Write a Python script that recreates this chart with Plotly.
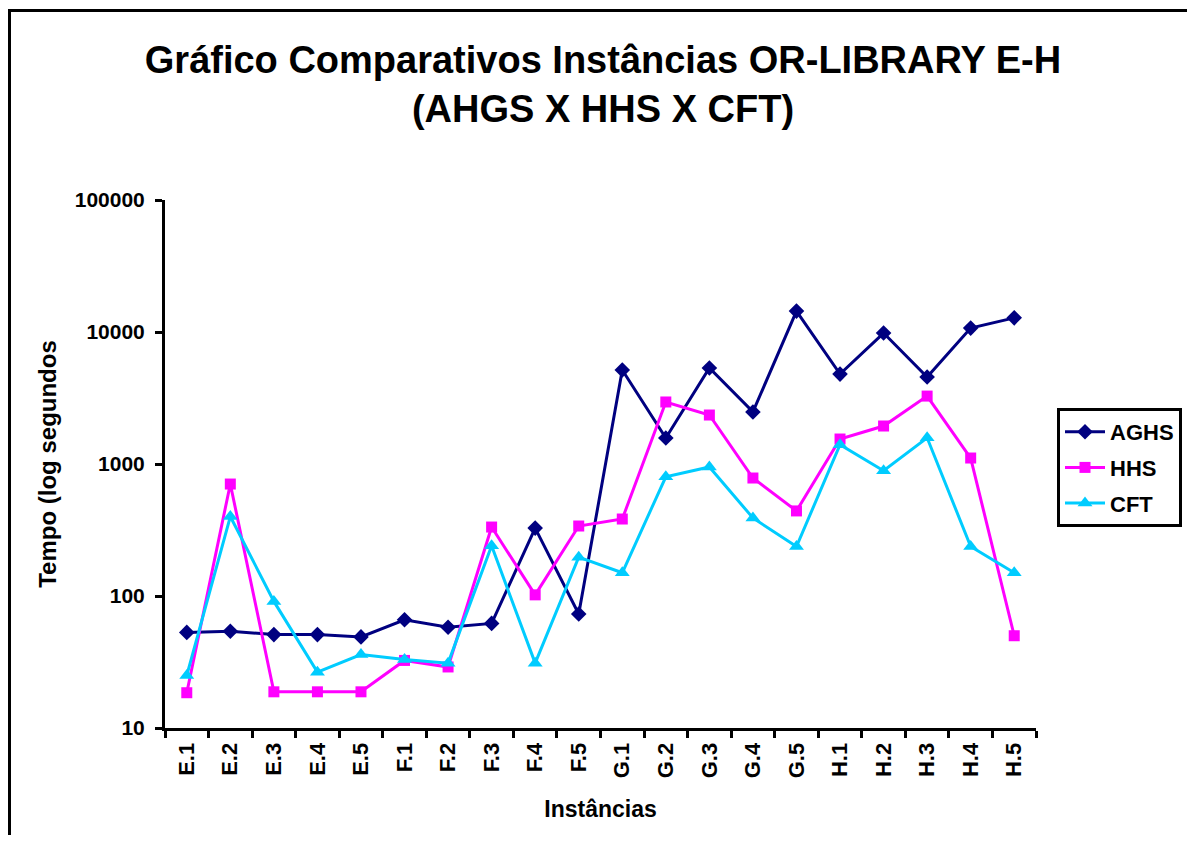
import plotly.graph_objects as go

categories = ["E.1", "E.2", "E.3", "E.4", "E.5",
              "F.1", "F.2", "F.3", "F.4", "F.5",
              "G.1", "G.2", "G.3", "G.4", "G.5",
              "H.1", "H.2", "H.3", "H.4", "H.5"]

aghs = [53, 54, 51, 51, 49, 66, 58, 62, 327, 73,
        5150, 1575, 5340, 2480, 14400, 4800, 9820, 4560, 10700, 12800]
hhs = [18.5, 705, 18.8, 18.8, 18.8, 32.5, 29, 333, 102, 339,
       383, 2950, 2350, 783, 441, 1546, 1940, 3270, 1110, 50]
cft = [25, 400, 91, 26.5, 36, 33, 31, 240, 31, 197,
       150, 800, 950, 390, 237, 1400, 890, 1580, 237, 150]

y_ticks = [10, 100, 1000, 10000, 100000]
y_tick_text = ["10", "100", "1000", "10000", "100000"]

FONT = "Liberation Sans"

fig = go.Figure()
fig.add_trace(go.Scatter(x=categories, y=aghs, name="AGHS", mode="lines+markers",
                         legendgroup="a",
                         line=dict(color="#000080", width=3),
                         marker=dict(symbol="diamond", size=12, color="#000080")))
fig.add_trace(go.Scatter(x=categories, y=hhs, name="HHS", mode="lines+markers",
                         legendgroup="b",
                         line=dict(color="#FF00FF", width=3),
                         marker=dict(symbol="square", size=11, color="#FF00FF")))
fig.add_trace(go.Scatter(x=categories, y=cft, name="CFT", mode="lines+markers",
                         legendgroup="c",
                         line=dict(color="#00CCFF", width=3),
                         marker=dict(symbol="triangle-up", size=13, color="#00CCFF")))

# page body margin offset (8px) -> figure coords = screen coords - 8
OFF = 8
W, H = 1179, 827
L, R, T, B = 165 - OFF, 1036 - OFF, 200 - OFF, 728 - OFF


def px(x):
    return (x - OFF - L) / (R - L)


def py(y):
    return (B - (y - OFF)) / (B - T)


fig.update_layout(
    width=W, height=H,
    margin=dict(l=L, r=W - R, t=T, b=H - B, autoexpand=False),
    paper_bgcolor="white", plot_bgcolor="white",
    font=dict(family=FONT, color="black"),
    title=dict(text="<b>Gráfico Comparativos Instâncias OR-LIBRARY E-H<br>(AHGS X HHS X CFT)</b>",
               x=(603 - OFF) / W, xanchor="center", y=1 - 65 / H, yanchor="top",
               font=dict(family=FONT, size=38, color="black")),
    xaxis=dict(type="category", range=[-0.5, len(categories) - 0.5],
               showline=True, linecolor="black", linewidth=3,
               ticks="outside", tickson="boundaries", ticklen=7, tickwidth=3, tickcolor="black",
               tickangle=-90, tickfont=dict(family=FONT, size=22, color="black", weight="bold"),
               showgrid=False, zeroline=False, mirror=False, ticklabelstandoff=3,
               title=dict(text="<b>Instâncias</b>", font=dict(family=FONT, size=23, color="black"),
                          standoff=24)),
    yaxis=dict(type="log", range=[1, 5], showline=True, linecolor="black", linewidth=3,
               ticks="outside", ticklen=7, tickwidth=3, tickcolor="black",
               tickvals=y_ticks, ticktext=y_tick_text, ticklabelstandoff=6,
               tickfont=dict(family=FONT, size=21, color="black", weight="bold"),
               showgrid=False, zeroline=False,
               title=dict(text="<b>Tempo (log segundos</b>", font=dict(family=FONT, size=24, color="black"),
                          standoff=12)),
    legend=dict(x=px(1057), y=py(408), xanchor="left", yanchor="top",
                bordercolor="black", borderwidth=3, bgcolor="white",
                font=dict(family=FONT, size=22, color="black", weight="bold"),
                traceorder="grouped", tracegroupgap=4, itemwidth=40),
    showlegend=True,
)

fig.add_shape(type="rect", xref="paper", yref="paper",
              x0=px(9.5), x1=px(1300), y0=py(10.5), y1=py(950),
              line=dict(color="black", width=3), fillcolor="rgba(0,0,0,0)", layer="below")

fig.write_html("out.html")
